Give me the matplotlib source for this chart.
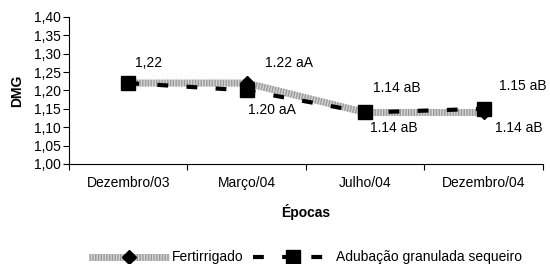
import matplotlib
matplotlib.use("Agg")
import matplotlib.pyplot as plt
from matplotlib.ticker import FuncFormatter
from matplotlib.lines import Line2D
from matplotlib.legend_handler import HandlerTuple

plt.rcParams['font.family'] = ['Liberation Sans', 'DejaVu Sans']

categories = ["Dezembro/03", "Março/04", "Julho/04", "Dezembro/04"]
fert = [1.22, 1.22, 1.14, 1.14]
adub = [1.22, 1.20, 1.14, 1.15]
fert_labels = ["1,22", "1.22 aA", "1.14 aB", "1.14 aB"]
adub_labels = ["", "1.20 aA", "1.14 aB", "1.15 aB"]

fig = plt.figure(figsize=(5.5, 2.64), dpi=100)
ax = fig.add_axes([0.1255, 0.379, 0.8615, 0.557])

x = list(range(len(categories)))
# hatched grey line: light base + short perpendicular dashes
ax.plot(x, fert, color='#d4d4d4', lw=5, solid_capstyle='butt', zorder=2)
ax.plot(x, fert, color='#9a9a9a', lw=5, ls=(0, (0.2, 0.2)), dash_capstyle='butt', zorder=2)
ax.plot(x, fert, ls='none', marker='D', ms=7, mfc='black', mec='black', zorder=2)
ax.plot(x, adub, color='black', lw=3, ls=(0, (2.6, 4.4)), marker='s', ms=9.5,
        mfc='black', mec='black', zorder=3)

ax.set_xlim(-0.5, len(categories) - 0.5)
ax.set_ylim(1.00, 1.40)
ax.set_yticks([1.00 + 0.05 * i for i in range(9)])
ax.yaxis.set_major_formatter(FuncFormatter(lambda v, p: f"{v:.2f}".replace('.', ',')))
ax.set_xticks([i - 0.5 for i in range(len(categories) + 1)])
ax.set_xticklabels([])
ax.set_xticks(x, minor=True)
ax.set_xticklabels(categories, minor=True)
ax.tick_params(axis='x', which='minor', length=0, pad=9, labelsize=10)
ax.tick_params(axis='x', which='major', length=4, direction='out')
ax.tick_params(axis='y', length=4, direction='out', labelsize=10, pad=2)
for s in ['top', 'right']:
    ax.spines[s].set_visible(False)

fs = 10
ax.text(0.17, 1.275, fert_labels[0], ha='center', va='center', fontsize=fs)
ax.text(1.36, 1.275, fert_labels[1], ha='center', va='center', fontsize=fs)
ax.text(1.21, 1.147, adub_labels[1], ha='center', va='center', fontsize=fs)
ax.text(2.27, 1.207, fert_labels[2], ha='center', va='center', fontsize=fs)
ax.text(2.24, 1.098, adub_labels[2], ha='center', va='center', fontsize=fs)
ax.text(3.33, 1.212, adub_labels[3], ha='center', va='center', fontsize=fs)
ax.text(3.30, 1.098, fert_labels[3], ha='center', va='center', fontsize=fs)

ax.set_ylabel('DMG', fontweight='bold', fontsize=10, labelpad=7)
ax.set_xlabel('Épocas', fontweight='bold', fontsize=10, labelpad=10)

h_fert = (Line2D([], [], color='#d4d4d4', lw=5, solid_capstyle='butt'),
          Line2D([], [], color='#9a9a9a', lw=5, ls=(0, (0.2, 0.2)), dash_capstyle='butt'),
          Line2D([], [], ls='none', marker='D', ms=7, mfc='black', mec='black'))
h_adub = Line2D([], [], color='black', lw=3, ls=(0, (2.6, 4.4)), marker='s', ms=9.5,
                mfc='black', mec='black')
fig.legend([h_fert, h_adub], ['Fertirrigado', 'Adubação granulada sequeiro'],
           handler_map={tuple: HandlerTuple(ndivide=1, pad=0)},
           loc='center', bbox_to_anchor=(0.555, 0.025), ncol=2, frameon=False,
           fontsize=10, handlelength=5.8, columnspacing=0.7, handletextpad=0.15)

fig.savefig('out.png', dpi=100)
